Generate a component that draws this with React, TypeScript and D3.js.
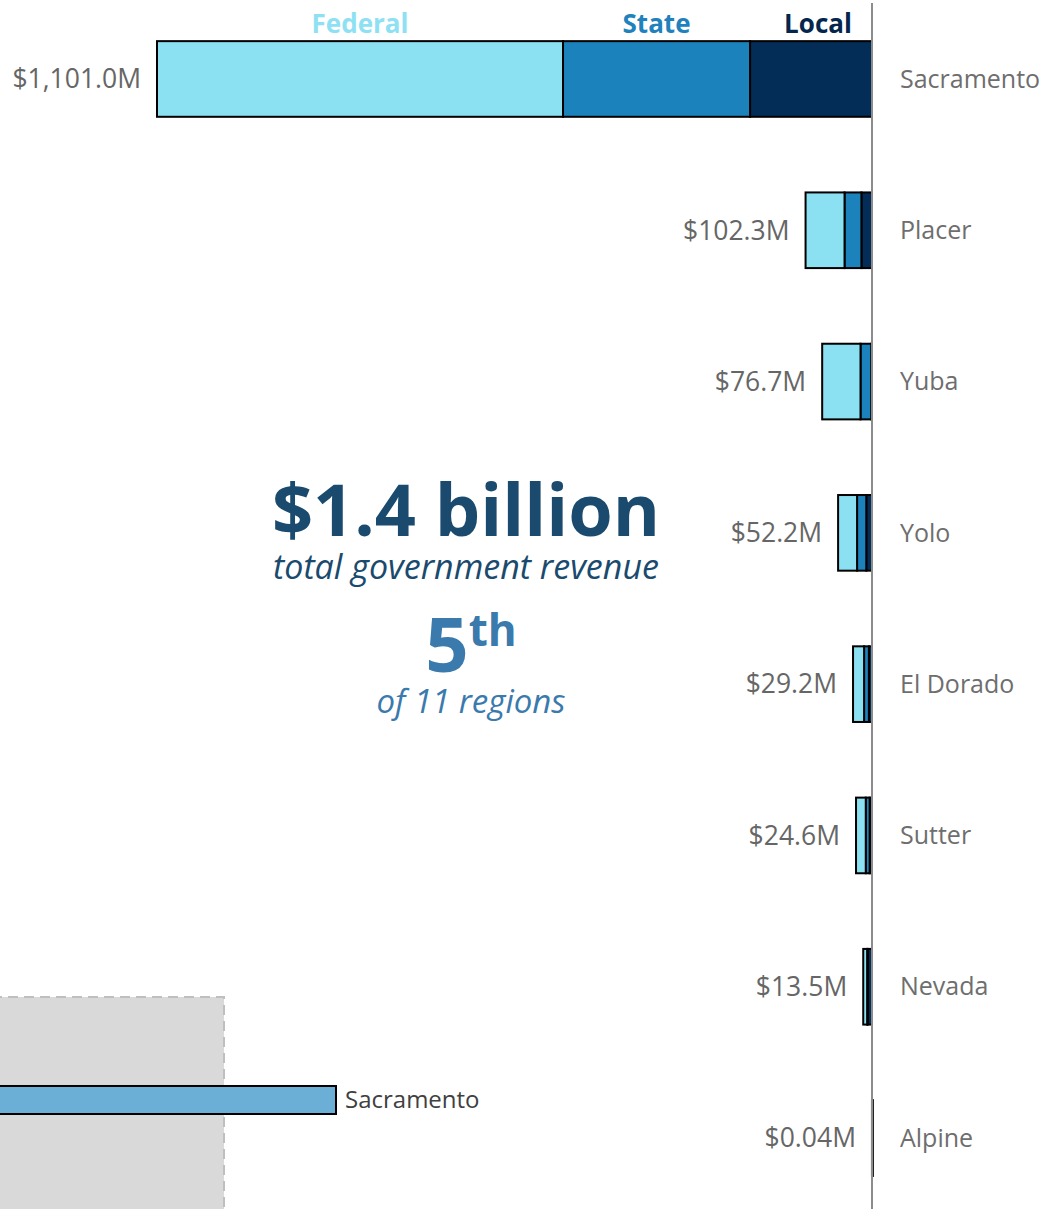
import * as d3 from 'd3'

const categories = ['Sacramento', 'Placer', 'Yuba', 'Yolo', 'El Dorado', 'Sutter', 'Nevada', 'Alpine']
const federal = [625.2, 60.0, 59.0, 29.2, 17.0, 15.0, 6.0, 0.03]
const state = [288.0, 26.0, 16.5, 14.2, 7.4, 6.0, 1.0, 0.005]
const local = [187.8, 16.3, 1.2, 8.8, 4.8, 3.6, 6.5, 0.005]
const sources = ['Federal', 'State', 'Local']

const headline = '$1.4 billion'
const headlineSub = 'total government revenue'
const rank = '5'
const rankSuffix = 'th'
const rankSub = 'of 11 regions'

// small comparison chart peeking in at the bottom left
const miniCategories = ['Sacramento']
const miniValues = [1101.0]
const miniBand = [0, 850]

const colors: Record<string, string> = { Federal: '#8be0f2', State: '#1b82bc', Local: '#032d57' }
const legendColors: Record<string, string> = { Federal: '#8ee1f3', State: '#1f82bd', Local: '#04264d' }
const W = 1047
const H = 1209
const font = '"Open Sans", sans-serif'

export default function App() {
  const rows = categories.map((c, i) => ({ cat: c, Federal: federal[i], State: state[i], Local: local[i] }))
  // local sits next to the axis, federal farthest out
  const stacked = d3.stack<any>().keys([...sources].reverse())(rows)
  const totals = rows.map(r => r.Federal + r.State + r.Local)

  const x = d3.scaleLinear().domain([0, d3.max(totals) || 0]).range([872, 157])
  const y = d3.scaleBand().domain(categories).range([-34.5, 1251.5]).paddingInner(0.5).paddingOuter(0.5)

  const fmt = (v: number) => (v < 1 ? `$${d3.format('.2f')(v)}M` : `$${d3.format(',.1f')(v)}M`)

  const miniX = d3.scaleLinear().domain([0, 1101.0]).range([-600, 336])
  const miniY = d3.scaleBand().domain(miniCategories).range([1086, 1114])

  const legendDx: Record<string, number> = { Federal: 0, State: 0, Local: 7 }

  return (
    <div style={{ position: 'absolute', left: 0, top: 0 }}>
      <svg width={W} height={H} style={{ display: 'block', fontFamily: font }}>
        <rect width={W} height={H} fill="#fff" />

        {/* mini chart highlight band + bar */}
        <rect
          x={miniX(miniBand[0])}
          y={997}
          width={224 - miniX(miniBand[0])}
          height={H}
          fill="#d9d9d9"
          stroke="#bfbfbf"
          strokeWidth={2}
          strokeDasharray="10,6"
        />
        {miniCategories.map((c, i) => (
          <g key={c}>
            <rect
              x={miniX(0)}
              y={miniY(c)}
              width={miniX(miniValues[i]) - miniX(0)}
              height={miniY.bandwidth()}
              fill="#6baed6"
              stroke="#000"
              strokeWidth={2}
            />
            <text x={miniX(miniValues[i]) + 9} y={(miniY(c) || 0) + miniY.bandwidth() / 2} dy="0.35em" fontSize={24} fill="#404040">
              {c}
            </text>
          </g>
        ))}

        {/* stacked bars */}
        {stacked.map(s => (
          <g key={s.key} fill={colors[s.key]} stroke="#000" strokeWidth={2}>
            {s.map((d, i) => (
              <rect
                key={categories[i]}
                x={x(d[1])}
                y={y(categories[i])}
                width={Math.max(0.5, x(d[0]) - x(d[1]))}
                height={y.bandwidth()}
              />
            ))}
          </g>
        ))}

        {/* legend above first bar */}
        {stacked.map(s => (
          <text
            key={s.key}
            x={(x(s[0][0]) + x(s[0][1])) / 2 + legendDx[s.key]}
            y={33}
            textAnchor="middle"
            fontSize={26}
            fontWeight={700}
            fill={legendColors[s.key]}
          >
            {s.key}
          </text>
        ))}

        {/* axis line */}
        <line x1={872} x2={872} y1={3} y2={H} stroke="#8c8c8c" strokeWidth={2} />

        {/* value labels and category labels */}
        {categories.map((c, i) => {
          const cy = (y(c) || 0) + y.bandwidth() / 2
          return (
            <g key={c}>
              <text x={x(totals[i]) - 16} y={cy} dy="0.35em" textAnchor="end" fontSize={26.5} fill="#666">
                {fmt(totals[i])}
              </text>
              <text x={900} y={cy} dy="0.35em" fontSize={25} fill="#6e6e6e">
                {c}
              </text>
            </g>
          )
        })}

        {/* callout */}
        <text x={466} y={536} textAnchor="middle" fontSize={72} fontWeight={700} fill="#1a4a6e">
          {headline}
        </text>
        <text x={466} y={579} textAnchor="middle" fontSize={34} fontStyle="italic" fill="#1a4a6e">
          {headlineSub}
        </text>
        <text x={471} y={672} textAnchor="middle" fontWeight={700} fill="#3a7aad">
          <tspan fontSize={76}>{rank}</tspan>
          <tspan fontSize={44} dy={-26}>{rankSuffix}</tspan>
        </text>
        <text x={471} y={713} textAnchor="middle" fontSize={33} fontStyle="italic" fill="#3a7aad">
          {rankSub}
        </text>
      </svg>
    </div>
  )
}
